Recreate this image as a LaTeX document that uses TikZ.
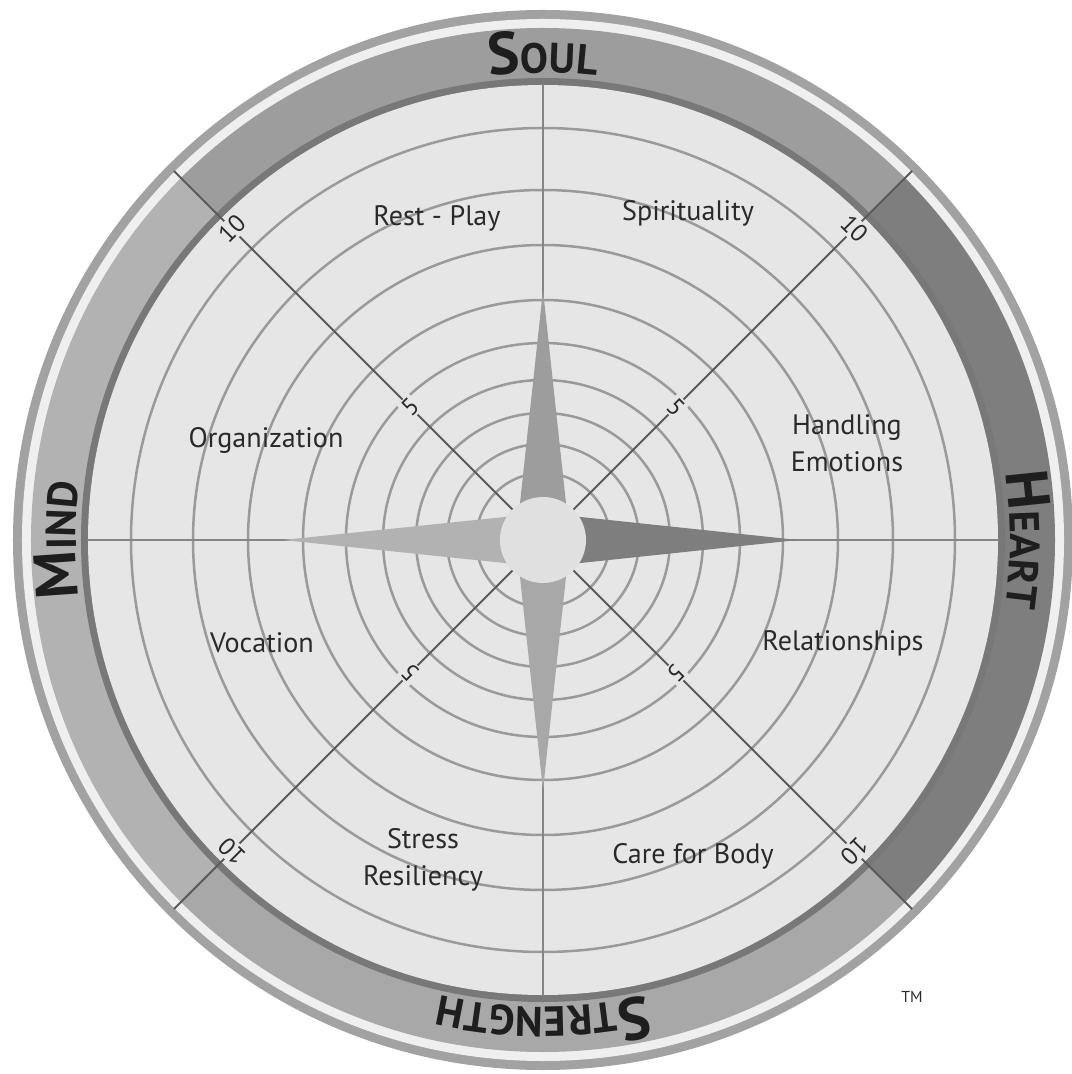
\documentclass[tikz,border=0pt]{standalone}
\usepackage{fontspec}
\setmainfont{PT Sans}
\usetikzlibrary{decorations.text}

\definecolor{rimgray}{HTML}{A2A2A2}
\definecolor{rimlight}{HTML}{EFEFEF}
\definecolor{soulband}{HTML}{9D9D9D}
\definecolor{heartband}{HTML}{7E7E7E}
\definecolor{strengthband}{HTML}{A8A8A8}
\definecolor{mindband}{HTML}{B2B2B2}
\definecolor{edgegray}{HTML}{787878}
\definecolor{diskgray}{HTML}{E6E6E6}
\definecolor{ringgray}{HTML}{9A9A9A}
\definecolor{axisgray}{HTML}{858585}
\definecolor{spokegray}{HTML}{5A5A5A}
\definecolor{hubgray}{HTML}{E0E0E0}
\definecolor{labeltext}{HTML}{2A2A2A}
\definecolor{bandtext}{HTML}{1E1E1E}

\newcommand{\bandcap}{\fontsize{34}{36}\selectfont\bfseries}
\newcommand{\bandsc}{\fontsize{24}{26}\selectfont\bfseries}

\begin{document}
\begin{tikzpicture}[
    x=0.2mm, y=0.2mm,
    area/.style={font=\fontsize{16}{21}\selectfont, text=labeltext, align=center},
    score/.style={font=\fontsize{14}{15}\selectfont, text=labeltext, fill=diskgray, inner sep=1pt},
    ring/.style={draw=ringgray, line width=0.5mm},
    axisline/.style={draw=axisgray, line width=0.4mm},
    spoke/.style={draw=spokegray, line width=0.4mm},
    bandlabel/.style={decorate, decoration={text along path, text align=center, text color=bandtext, text={#1}}}
]
    \useasboundingbox (-543,-534) rectangle (528,540);
    \coordinate (hub) at (0,0);

    % rim and the four bands
    \fill[rimgray] (hub) circle (530);
    \fill[rimlight] (hub) circle (521);
    \fill[soulband] (hub) -- (45:512) arc[start angle=45, end angle=135, radius=512] -- cycle;
    \fill[mindband] (hub) -- (135:512) arc[start angle=135, end angle=225, radius=512] -- cycle;
    \fill[strengthband] (hub) -- (225:512) arc[start angle=225, end angle=315, radius=512] -- cycle;
    \fill[heartband] (hub) -- (-45:512) arc[start angle=-45, end angle=45, radius=512] -- cycle;
    \fill[edgegray] (hub) circle (462);
    \fill[diskgray] (hub) circle (455);

    % score rings
    \foreach \r in {67,96,127,160,197,240,295,350,412}
        \draw[ring] (hub) circle (\r);

    \draw[axisline] (-455,0) -- (455,0);
    \draw[axisline] (0,-455) -- (0,455);
    \foreach \a in {45,135,225,315}
        \draw[spoke] (hub) -- (\a:522);

    % compass star
    \fill[soulband] (-27,0) -- (0,250) -- (27,0) -- cycle;
    \fill[heartband] (0,27) -- (255,0) -- (0,-27) -- cycle;
    \fill[strengthband] (-27,0) -- (0,-250) -- (27,0) -- cycle;
    \fill[mindband] (0,27) -- (-260,0) -- (0,-27) -- cycle;
    \fill[hubgray] (hub) circle (43);

    \foreach \a in {45,135,225,315} {
        \node[score, rotate=\a-90] (ten-\a) at (\a:440) {10};
        \node[score, rotate=\a-90] (five-\a) at (\a:188) {5};
    }

    % areas
    \node[area] (rest) at (-106,322) {Rest - Play};
    \node[area] (spirit) at (145,327) {Spirituality};
    \node[area] (organize) at (-277,100) {Organization};
    \node[area] (emotions) at (304,97) {Handling\\Emotions};
    \node[area] (vocation) at (-281,-103) {Vocation};
    \node[area] (relations) at (300,-103) {Relationships};
    \node[area] (stress) at (-120,-320) {Stress\\Resiliency};
    \node[area] (body) at (150,-316) {Care for Body};

    % band names
    \path[bandlabel={|\bandcap|S|\bandsc|OUL}] (135:467) arc[start angle=135, end angle=45, radius=467];
    \path[bandlabel={|\bandcap|H|\bandsc|EART}] (45:467) arc[start angle=45, end angle=-45, radius=467];
    \path[bandlabel={|\bandcap|S|\bandsc|TRENGTH}] (-45:467) arc[start angle=-45, end angle=-135, radius=467];
    \path[bandlabel={|\bandcap|M|\bandsc|IND}] (-135:467) arc[start angle=-135, end angle=-225, radius=467];

    \node[font=\fontsize{9}{10}\selectfont, text=labeltext] (tm) at (369,-457) {TM};
\end{tikzpicture}
\end{document}
